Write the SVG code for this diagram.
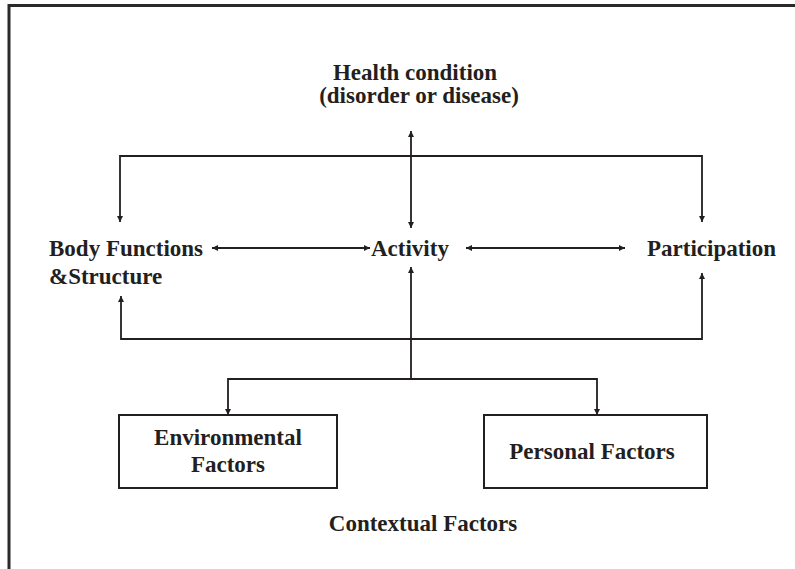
<svg xmlns="http://www.w3.org/2000/svg" width="795" height="569" viewBox="0 0 795 569">
<style>
.t{font-family:"Liberation Serif","Times New Roman",serif;font-weight:bold;font-size:23px;fill:#231f20}
.c{text-anchor:middle}
.ln{fill:none;stroke:#231f20;stroke-width:1.8}
.box{fill:#fff;stroke:#231f20;stroke-width:2}
</style>
<defs>
<marker id="ah" viewBox="0 0 10 10" refX="10" refY="5" markerWidth="7" markerHeight="6" markerUnits="userSpaceOnUse" orient="auto-start-reverse">
<path d="M0,0 L10,5 L0,10 z" fill="#231f20"/>
</marker>
</defs>
<rect width="795" height="569" fill="#fff"/>
<g id="frame">
<path d="M9,569 V5.5 H795" fill="none" stroke="#2a2a2a" stroke-width="3"/>
</g>
<g id="connectors">
<line class="ln" x1="411" y1="131" x2="411" y2="228" marker-start="url(#ah)" marker-end="url(#ah)"/>
<path class="ln" d="M120,222 V156 H702 V222" marker-start="url(#ah)" marker-end="url(#ah)"/>
<line class="ln" x1="212" y1="248" x2="370" y2="248" marker-start="url(#ah)" marker-end="url(#ah)"/>
<line class="ln" x1="466" y1="248" x2="625" y2="248" marker-start="url(#ah)" marker-end="url(#ah)"/>
<path class="ln" d="M121,296 V339 H702 V273" marker-start="url(#ah)" marker-end="url(#ah)"/>
<line class="ln" x1="411" y1="379" x2="411" y2="267" marker-end="url(#ah)"/>
<path class="ln" d="M228,415 V379 H597 V415" marker-start="url(#ah)" marker-end="url(#ah)"/>
</g>
<g id="health">
<text class="t c" x="415" y="80">Health condition</text>
<text class="t c" x="419" y="103">(disorder or disease)</text>
</g>
<g id="body">
<text class="t" x="49" y="256">Body Functions</text>
<text class="t" x="49" y="284">&amp;Structure</text>
</g>
<g id="activity">
<text class="t" x="371" y="256">Activity</text>
</g>
<g id="participation">
<text class="t" x="647" y="256">Participation</text>
</g>
<g id="environmental">
<rect class="box" x="119" y="415" width="218" height="73"/>
<text class="t c" x="228" y="445">Environmental</text>
<text class="t c" x="228" y="472">Factors</text>
</g>
<g id="personal">
<rect class="box" x="484" y="415" width="223" height="73"/>
<text class="t c" x="592" y="459">Personal Factors</text>
</g>
<g id="contextual">
<text class="t c" x="423" y="531">Contextual Factors</text>
</g>
</svg>
